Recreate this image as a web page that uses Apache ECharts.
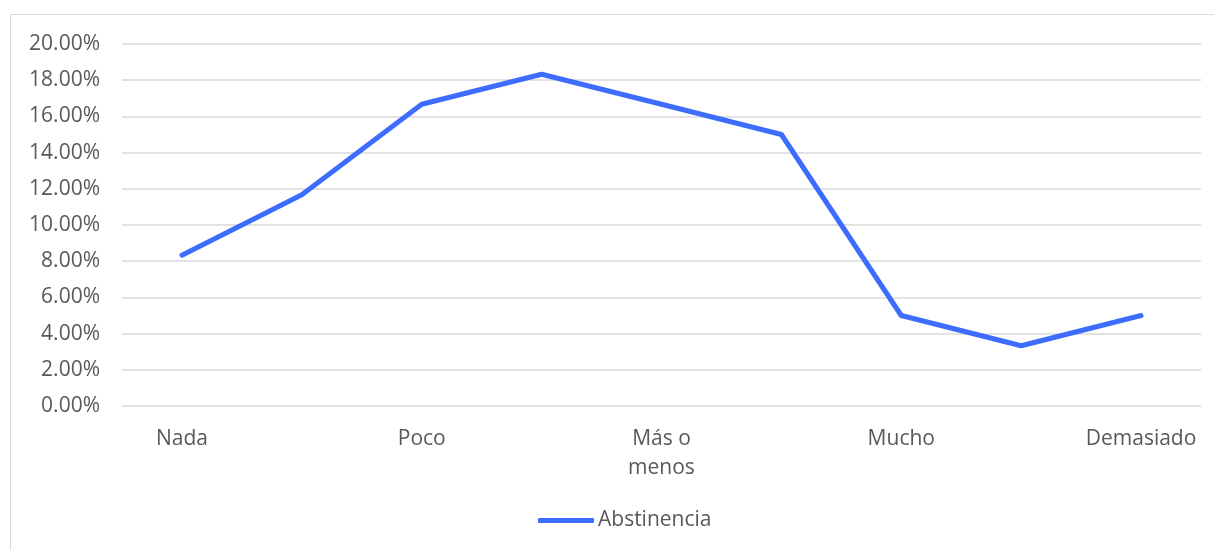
<!DOCTYPE html>
<html>
<head>
<meta charset="utf-8">
<script src="https://cdn.jsdelivr.net/npm/echarts@6/dist/echarts.min.js"></script>
<style>
  html, body { margin: 0; padding: 0; background: #ffffff; }
  #chart { width: 1214px; height: 550px; }
</style>
</head>
<body>
<div id="chart"></div>
<script>
// Response levels; the points between named levels carry no label
const categories = ['Nada', '', 'Poco', '', 'Más o\nmenos', '', 'Mucho', '', 'Demasiado'];
const seriesName = 'Abstinencia';
const abstinencia = [8.33, 11.67, 16.67, 18.33, 16.67, 15.0, 5.0, 3.33, 5.0];
const yTicks = { min: 0, max: 20, step: 2 };

const textColor = '#595959';
const fontFamily = '"Open Sans", "Liberation Sans", sans-serif';
const fontSize = 21;

const chart = echarts.init(document.getElementById('chart'), null, { renderer: 'canvas' });

chart.setOption({
  animation: false,
  backgroundColor: '#ffffff',
  graphic: [{
    type: 'rect',
    shape: { x: 10.5, y: 14.5, width: 1300, height: 700 },
    style: { fill: 'none', stroke: '#d9d9d9', lineWidth: 1 },
    silent: true,
    z: -10
  }],
  grid: { left: 122, right: 13, top: 44, bottom: 144, containLabel: false },
  legend: {
    data: [{ name: seriesName, icon: 'roundRect' }],
    left: 533,
    top: 505,
    itemWidth: 56,
    itemHeight: 5,
    itemGap: 4,
    textStyle: { color: textColor, fontSize: fontSize, fontFamily: fontFamily, padding: [0, 0, 0, -1] }
  },
  xAxis: {
    type: 'category',
    data: categories,
    boundaryGap: true,
    axisLine: { show: false },
    axisTick: { show: false },
    axisLabel: {
      interval: 0,
      color: textColor,
      fontSize: fontSize,
      fontFamily: fontFamily,
      lineHeight: 29,
      margin: 19
    },
    splitLine: { show: false }
  },
  yAxis: {
    type: 'value',
    min: yTicks.min,
    max: yTicks.max,
    interval: yTicks.step,
    axisLine: { show: false },
    axisTick: { show: false },
    axisLabel: {
      color: textColor,
      fontSize: fontSize,
      fontFamily: fontFamily,
      margin: 22,
      formatter: v => v.toFixed(2) + '%'
    },
    splitLine: { lineStyle: { color: '#d9d9d9', width: 1.5 } }
  },
  series: [{
    name: seriesName,
    type: 'line',
    data: abstinencia,
    symbol: 'none',
    lineStyle: { color: '#3d6dff', width: 5, cap: 'round', join: 'round' },
    itemStyle: { color: '#3d6dff' }
  }]
});
</script>
</body>
</html>
